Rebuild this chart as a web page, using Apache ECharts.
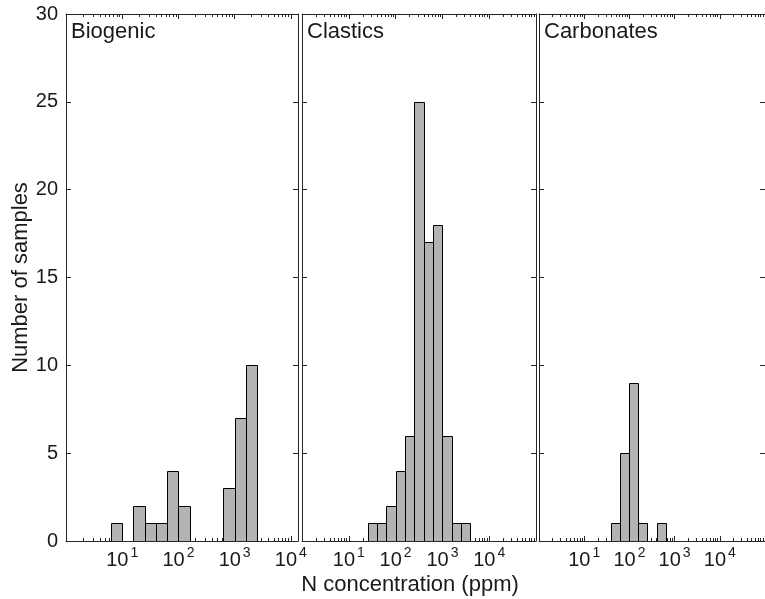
<!DOCTYPE html>
<html>
<head>
<meta charset="utf-8">
<script src="https://cdn.jsdelivr.net/npm/echarts@6/dist/echarts.min.js"></script>
<style>
html,body{margin:0;padding:0;background:#fff;}
#chart{width:765px;height:599px;}
</style>
</head>
<body>
<div id="chart"></div>
<script>
// ---- data ----
const panelTitles = ['Biogenic', 'Clastics', 'Carbonates'];
// histogram bin lower edges, log10(ppm); every bin is 0.2 decade wide
const binLowLog10 = [0.0, 0.2, 0.4, 0.6, 0.8, 1.0, 1.2, 1.4, 1.6, 1.8, 2.0,
                     2.2, 2.4, 2.6, 2.8, 3.0, 3.2, 3.4, 3.6, 3.8, 4.0];
const binWidthLog10 = 0.2;
const biogenicCounts   = [0, 0, 0, 0, 1, 0, 2, 1, 1, 4, 2, 0, 0, 0, 3, 7, 10, 0, 0, 0, 0];
const clasticsCounts   = [0, 0, 0, 0, 0, 0, 0, 1, 1, 2, 4, 6, 25, 17, 18, 6, 1, 1, 0, 0, 0];
const carbonatesCounts = [0, 0, 0, 0, 0, 0, 0, 0, 1, 5, 9, 1, 0, 1, 0, 0, 0, 0, 0, 0, 0];
const panelCounts = [biogenicCounts, clasticsCounts, carbonatesCounts];
const xMaxes = [13400, 100000, 100000];
const xMajorTicks = [1, 10, 100, 1000, 10000, 100000];
const xLabelTicks = [10, 100, 1000, 10000];
const yTicks = [0, 5, 10, 15, 20, 25, 30];
const yLabel = 'Number of samples';
const xLabel = 'N concentration (ppm)';

// ---- layout / style ----
const FONT = '"Liberation Sans", Arial, Helvetica, sans-serif';
const AX = '#262626';
const gridLeft = [66, 302, 539];
const gridWidth = [232, 234, 234];
const gridTop = 14, gridHeight = 527;

const xMinorTicks = [];
for (let d = 1; d <= 10000; d *= 10) {
  for (let k = 2; k <= 9; k++) xMinorTicks.push(k * d);
}

const grids = [], xAxes = [], yAxes = [], series = [], graphics = [];

for (let i = 0; i < 3; i++) {
  grids.push({left: gridLeft[i], top: gridTop, width: gridWidth[i], height: gridHeight, containLabel: false});
  const base = {
    type: 'log', logBase: 10, gridIndex: i, min: 1, max: xMaxes[i],
    splitLine: {show: false}, axisPointer: {show: false}
  };
  // bottom major (with labels and box line)
  xAxes.push(Object.assign({}, base, {
    position: 'bottom',
    axisLine: {show: true, lineStyle: {color: AX, width: 1}},
    axisTick: {show: true, inside: true, length: 5, lineStyle: {color: AX}, customValues: xMajorTicks},
    axisLabel: {
      show: true, margin: 5, customValues: xLabelTicks,
      formatter: function (v) { return '{b|10}{s|' + Math.round(Math.log10(v)) + '}'; },
      rich: {
        b: {fontSize: 20, fontFamily: FONT, color: '#1a1a1a', lineHeight: 24, verticalAlign: 'bottom'},
        s: {fontSize: 14, fontFamily: FONT, color: '#1a1a1a', lineHeight: 14, verticalAlign: 'top', padding: [0, 0, 0, 2]}
      }
    }
  }));
  // bottom minor
  xAxes.push(Object.assign({}, base, {
    position: 'bottom',
    axisLine: {show: false},
    axisTick: {show: true, inside: true, length: 3, lineStyle: {color: AX}, customValues: xMinorTicks},
    axisLabel: {show: false}
  }));
  // top major (box line)
  xAxes.push(Object.assign({}, base, {
    position: 'top',
    axisLine: {show: true, lineStyle: {color: AX, width: 1}},
    axisTick: {show: true, inside: true, length: 5, lineStyle: {color: AX}, customValues: xMajorTicks},
    axisLabel: {show: false}
  }));
  // top minor
  xAxes.push(Object.assign({}, base, {
    position: 'top',
    axisLine: {show: false},
    axisTick: {show: true, inside: true, length: 3, lineStyle: {color: AX}, customValues: xMinorTicks},
    axisLabel: {show: false}
  }));

  const ybase = {
    type: 'value', gridIndex: i, min: 0, max: 30, interval: 5,
    splitLine: {show: false},
    axisLine: {show: true, onZero: false, lineStyle: {color: AX, width: 1}},
    axisTick: {show: true, inside: true, length: 5, lineStyle: {color: AX}}
  };
  yAxes.push(Object.assign({}, ybase, {
    position: 'left',
    axisLabel: {show: i === 0, margin: 8, fontSize: 20, fontFamily: FONT, color: '#1a1a1a'},
    name: i === 0 ? yLabel : '',
    nameLocation: 'middle', nameRotate: 90, nameGap: 34,
    nameTextStyle: {fontSize: 22, fontFamily: FONT, color: '#1a1a1a'}
  }));
  yAxes.push(Object.assign({}, ybase, {
    position: 'right',
    axisLabel: {show: false}
  }));

  const counts = panelCounts[i];
  const data = binLowLog10.map(function (lo, j) {
    return [Math.pow(10, lo), Math.pow(10, lo + binWidthLog10), counts[j]];
  });
  series.push({
    type: 'custom',
    xAxisIndex: i * 4, yAxisIndex: i * 2,
    clip: true,
    encode: {x: [0, 1], y: 2},
    data: data,
    renderItem: function (params, api) {
      const p0 = api.coord([api.value(0), 0]);
      const p1 = api.coord([api.value(1), api.value(2)]);
      const x0 = Math.round(p0[0]) + 0.5, x1 = Math.round(p1[0]) + 0.5;
      const y0 = Math.round(p0[1]) + 0.5, y1 = Math.round(p1[1]) + 0.5;
      return {
        type: 'rect',
        shape: {x: x0, y: y1, width: x1 - x0, height: y0 - y1},
        style: {fill: '#b3b3b3', stroke: '#000', lineWidth: 1}
      };
    }
  });

  graphics.push({
    type: 'text', left: gridLeft[i] + 5, top: 21,
    style: {text: panelTitles[i], fontSize: 22, fontFamily: FONT, fill: '#1a1a1a'}
  });
}

graphics.push({
  type: 'text', x: 410, y: 585,
  style: {text: xLabel, fontSize: 22, fontFamily: FONT, fill: '#1a1a1a', textAlign: 'center', textVerticalAlign: 'middle'}
});

const chart = echarts.init(document.getElementById('chart'), null, {renderer: 'canvas'});
chart.setOption({
  animation: false,
  backgroundColor: '#fff',
  grid: grids,
  xAxis: xAxes,
  yAxis: yAxes,
  series: series,
  graphic: graphics
});
</script>
</body>
</html>
